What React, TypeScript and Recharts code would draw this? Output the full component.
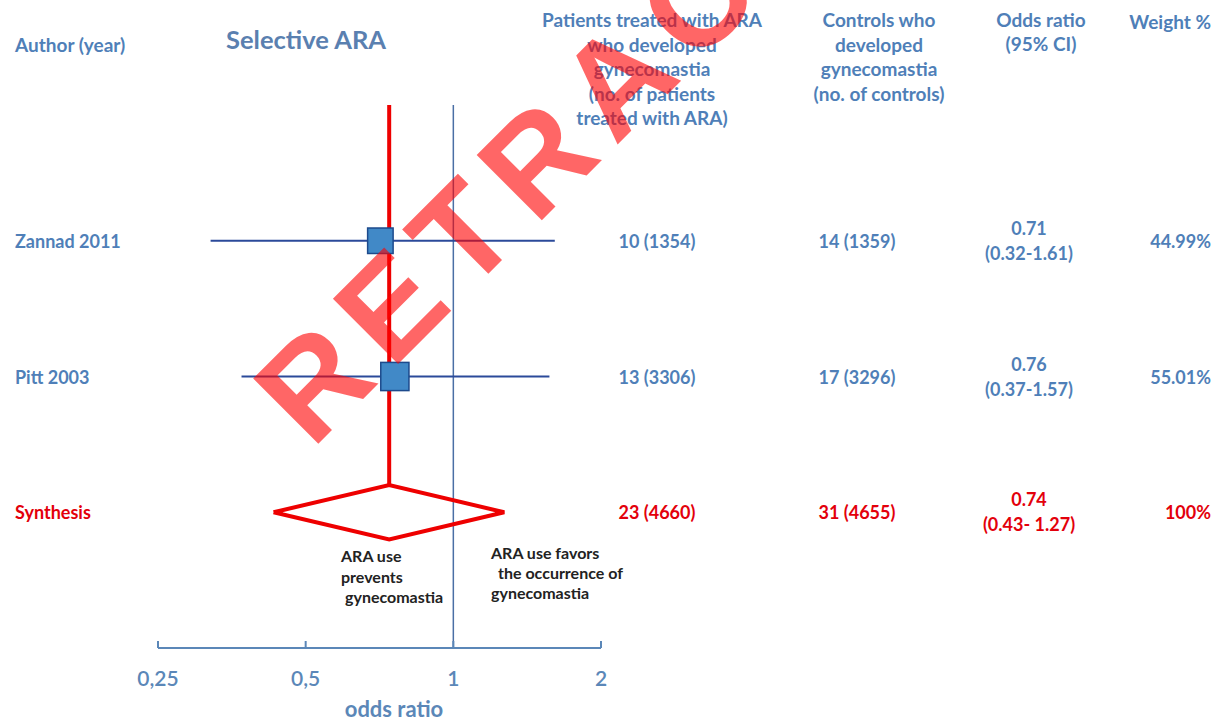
import React from 'react';
import { ComposedChart, Scatter, XAxis, YAxis, ErrorBar, ReferenceLine } from 'recharts';

// study rows (top to bottom), last one is the pooled estimate
const authors = ['Zannad 2011', 'Pitt 2003', 'Synthesis'];
const treated = ['10 (1354)', '13 (3306)', '23 (4660)'];
const controls = ['14 (1359)', '17 (3296)', '31 (4655)'];
const oddsRatio = [0.71, 0.76, 0.74];
const ciLow = [0.32, 0.37, 0.43];
const ciHigh = [1.61, 1.57, 1.27];
const ciLabels = ['(0.32-1.61)', '(0.37-1.57)', '(0.43- 1.27)'];
const weights = [44.99, 55.01, 100];
const weightLabels = ['44.99%', '55.01%', '100%'];
const xTicks = [0.25, 0.5, 1, 2];
const rows = [1, 2, 3];

const BLUE_TXT = '#4f7fb8';
const RED_TXT = '#e3000b';
const FONT = 'Lato, "Open Sans", sans-serif';

const studies = [0, 1].map((i) => ({
  or: oddsRatio[i],
  row: rows[i],
  w: weights[i],
  err: [oddsRatio[i] - ciLow[i], ciHigh[i] - oddsRatio[i]],
}));

const pooled = oddsRatio[2];
const diamond = [
  { or: ciLow[2], row: rows[2] },
  { or: pooled, row: rows[2] - 0.2 },
  { or: ciHigh[2], row: rows[2] },
  { or: pooled, row: rows[2] + 0.2 },
  { or: ciLow[2], row: rows[2] },
];

const Square = (props: any) => {
  const s = 3.8 * Math.sqrt(props.payload.w);
  return (
    <rect x={props.cx - s / 2} y={props.cy - s / 2} width={s} height={s}
      fill="#4189c7" stroke="#1d4a8c" strokeWidth={1.5} />
  );
};

const Nothing = () => <g />;

const XTick = (props: any) => {
  const { x, y, payload } = props;
  return (
    <g>
      <line x1={x} x2={x} y1={y} y2={y - 7} stroke="#5b87b8" strokeWidth={2} />
      <text x={x} y={y + 38} textAnchor="middle" fontSize={21} fontWeight={600}
        fill="#5b87b8" fontFamily={FONT}>
        {String(payload.value).replace('.', ',')}
      </text>
    </g>
  );
};

const RowTick = (props: any) => {
  const { y, payload } = props;
  const i = payload.value - 1;
  const c = i === 2 ? RED_TXT : BLUE_TXT;
  const t = { fontSize: 18, fontWeight: 700, fill: c, fontFamily: FONT };
  return (
    <g>
      <text x={15} y={y + 7} {...t}>{authors[i]}</text>
      <text x={657} y={y + 7} textAnchor="middle" {...t}>{treated[i]}</text>
      <text x={857} y={y + 7} textAnchor="middle" {...t}>{controls[i]}</text>
      <text x={1029} y={y - 6} textAnchor="middle" {...t}>{oddsRatio[i].toFixed(2)}</text>
      <text x={1029} y={y + 19} textAnchor="middle" {...t}>{ciLabels[i]}</text>
      <text x={1211} y={y + 7} textAnchor="end" {...t}>{weightLabels[i]}</text>
    </g>
  );
};

const hdr = { fontSize: 19, fontWeight: 700, fill: BLUE_TXT, fontFamily: FONT };
const note = { fontSize: 16, fontWeight: 700, fill: '#222', fontFamily: FONT };

export default function App() {
  return (
    <div style={{ position: 'absolute', left: 0, top: 0, width: 1219, height: 722, background: '#fff' }}>
      <ComposedChart width={1219} height={722} margin={{ top: 105, right: 618, bottom: 14, left: 157 }}>
        <XAxis dataKey="or" type="number" scale="log" domain={[0.25, 2]} ticks={xTicks}
          allowDataOverflow height={60} tickSize={0} tickMargin={0} tickLine={false}
          axisLine={{ stroke: '#5b87b8', strokeWidth: 2 }} tick={<XTick />} />
        <YAxis dataKey="row" type="number" domain={[0, 4]} ticks={rows} reversed width={1}
          axisLine={false} tickLine={false} tick={<RowTick />} interval={0} />
        <ReferenceLine x={1} stroke="#4a6fa5" strokeWidth={1.5} />
        <Scatter data={studies} shape={<Nothing />} isAnimationActive={false}>
          <ErrorBar dataKey="err" direction="x" width={0} stroke="#2b4a9a" strokeWidth={2} />
        </Scatter>
        <Scatter data={studies} shape={<Square />} isAnimationActive={false} />
        <ReferenceLine segment={[{ x: pooled, y: 0 }, { x: pooled, y: rows[2] - 0.2 }]}
          stroke="#ee0000" strokeWidth={4} />
        <Scatter data={diamond} line={{ stroke: '#ee0000', strokeWidth: 4 }} lineType="joint"
          shape={<Nothing />} isAnimationActive={false} />
      </ComposedChart>
      <svg width={1219} height={722} style={{ position: 'absolute', left: 0, top: 0, pointerEvents: 'none' }}>
        <text x={15} y={52} {...hdr}>Author (year)</text>
        <text x={226} y={49} fontSize={25.5} fontWeight={700} fill="#5a80b0" fontFamily={FONT}>Selective ARA</text>
        {['Patients treated with ARA', 'who developed', 'gynecomastia', '(no. of patients', 'treated with ARA)'].map((s, k) => (
          <text key={s} x={652} y={27 + k * 24.6} textAnchor="middle" {...hdr}>{s}</text>
        ))}
        {['Controls who', 'developed', 'gynecomastia', '(no. of controls)'].map((s, k) => (
          <text key={s} x={879} y={27 + k * 24.6} textAnchor="middle" {...hdr}>{s}</text>
        ))}
        <text x={1041} y={27} textAnchor="middle" {...hdr}>Odds ratio</text>
        <text x={1041} y={51} textAnchor="middle" {...hdr}>(95% CI)</text>
        <text x={1211} y={29} textAnchor="end" {...hdr}>Weight %</text>
        <text x={341} y={562} {...note}>ARA use</text>
        <text x={341} y={583} {...note}>prevents</text>
        <text x={345} y={603} {...note}>gynecomastia</text>
        <text x={491} y={559} {...note}>ARA use favors</text>
        <text x={498} y={579} {...note}>the occurrence of</text>
        <text x={491} y={599} {...note}>gynecomastia</text>
        <text x={394} y={717} textAnchor="middle" fontSize={22} fontWeight={700} fill="#5b87b8" fontFamily={FONT}>odds ratio</text>
        <text x={312} y={450} transform="rotate(-45 312 450)" fontSize={134} fontWeight={700}
          fontFamily="'Liberation Sans', Arial, sans-serif" fill="#ff0000" fillOpacity={0.6} letterSpacing={16}>
          RETRACTED
        </text>
      </svg>
    </div>
  );
}
